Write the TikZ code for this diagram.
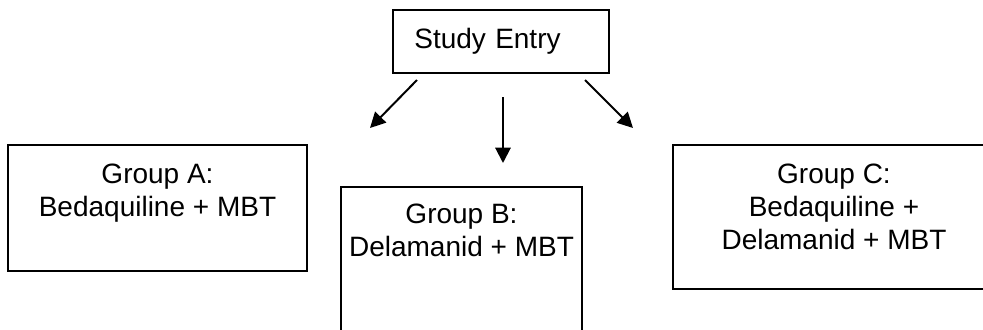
\documentclass[tikz,border=0pt]{standalone}
\usepackage{fontspec}
\setmainfont{Liberation Sans}
\usetikzlibrary{arrows.meta}

\tikzset{every picture/.style={line width=0.75pt}}
\tikzset{
	armbox/.style={draw, line width=1.5pt, inner sep=0pt},
	armtext/.style={anchor=north, align=center, inner sep=0pt, font=\fontsize{21}{24.75}\selectfont},
	armarrow/.style={line width=1.5pt, -{Triangle[length=11.5pt,width=11.5pt]}}
}

\begin{document}
\begin{tikzpicture}[x=0.75pt,y=0.75pt,yscale=-1,xscale=1]
	\clip (0,0) rectangle (983,329);

	% Entry box
	\node [armbox, minimum width=162pt, minimum height=47.25pt, text width=130pt, align=left, inner xsep=16pt, font=\fontsize{21}{24.75}\selectfont] (entry) at (501,41.5) {Study Entry};

	% Group boxes
	\node [armbox, minimum width=224.25pt, minimum height=94.5pt] (grpA) at (157.5,208) {};
	\node [armbox, minimum width=180.75pt, minimum height=118.5pt] (grpB) at (461.5,266) {};
	\node [armbox, minimum width=241.5pt, minimum height=108pt] (grpC) at (834,217) {};

	% Text Node
	\node [armtext] (txtA) at (157.5,163) {Group A:\\Bedaquiline + MBT};
	% Text Node
	\node [armtext] (txtB) at (461.5,203) {Group B:\\Delamanid + MBT};
	% Text Node
	\node [armtext] (txtC) at (834,163) {Group C:\\Bedaquiline +\\Delamanid + MBT};

	% Arrow ends
	\coordinate (ltail) at (417,80);
	\coordinate (lhead) at (370,128);
	\coordinate (mtail) at (503,97);
	\coordinate (mhead) at (503,163);
	\coordinate (rtail) at (585,80);
	\coordinate (rhead) at (633,128);

	% Connection
	\draw [armarrow] (ltail) -- (lhead);
	% Connection
	\draw [armarrow] (mtail) -- (mhead);
	% Connection
	\draw [armarrow] (rtail) -- (rhead);
\end{tikzpicture}
\end{document}
